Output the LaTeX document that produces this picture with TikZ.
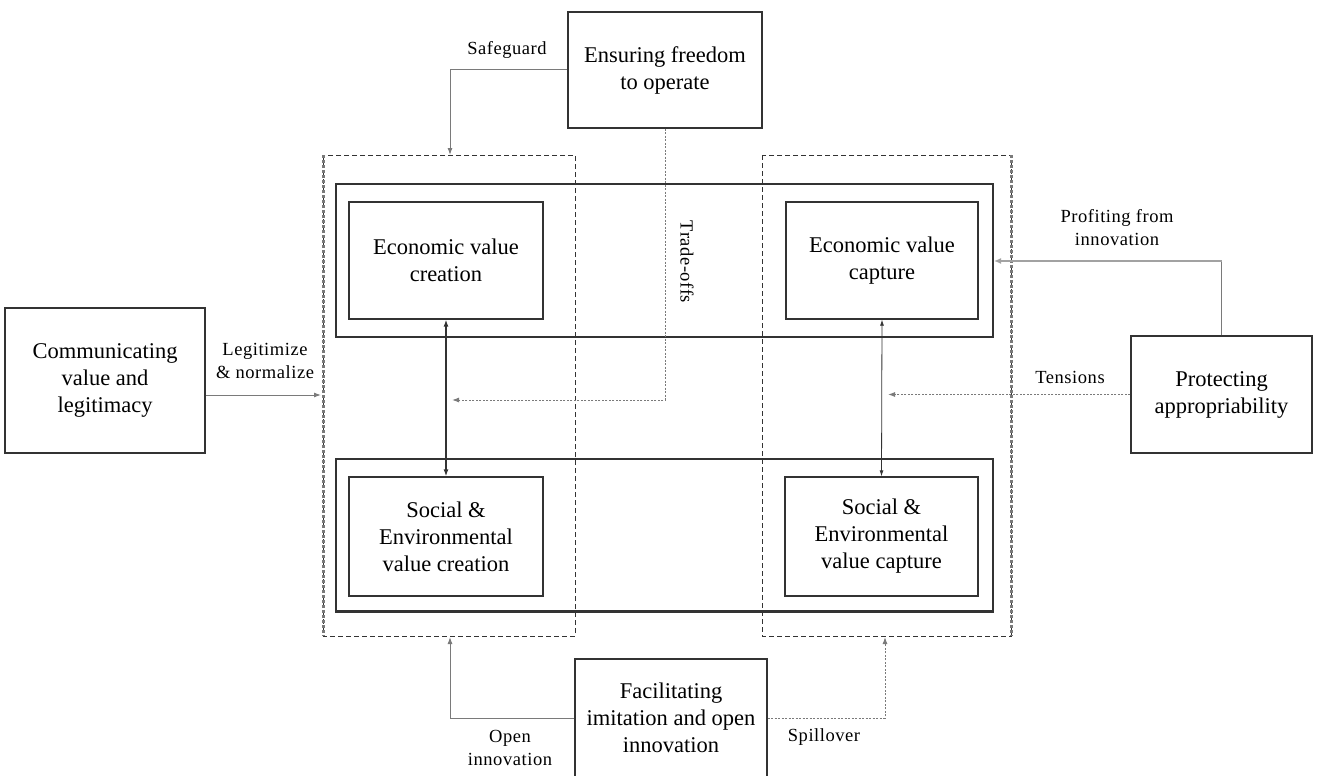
\documentclass[tikz,border=0pt]{standalone}
\usepackage{fontspec}
\setmainfont{Liberation Serif}
\newfontfamily\lblfont[LetterSpace=3]{Liberation Serif}
\usetikzlibrary{arrows.meta}
\definecolor{ink}{HTML}{333333}
\definecolor{soft}{HTML}{7A7A7A}
\tikzset{
  box/.style={draw=ink, line width=1.3pt, align=center, inner sep=0pt,
    font=\fontsize{22.5}{27}\selectfont},
  band/.style={draw=ink, line width=1.3pt},
  zone/.style={draw=ink, line width=0.9pt, dash pattern=on 5pt off 3pt},
  zoneedge/.style={draw=soft, line width=3pt, dash pattern=on 3pt off 2pt},
  lbl/.style={align=center, inner sep=0pt, font=\lblfont\fontsize{18.5}{23}\selectfont, text=black},
  tip/.style={-{Latex[length=7pt,width=5pt]}},
  conn/.style={draw=soft, line width=1pt, tip},
  dconn/.style={draw=soft, line width=1pt, dash pattern=on 2pt off 1.5pt, tip},
}
\begin{document}
\begin{tikzpicture}[x=1pt, y=-1pt]
  \fill[white] (0,0) rectangle (1317,776);
  \useasboundingbox (0,0) rectangle (1317,776);
  \clip (0,0) rectangle (1317,776);

  % dashed zones around creation and capture
  \draw[zone] (323,155) rectangle (575,636);
  \draw[zone] (762,155) rectangle (1011,636);
  \draw[zoneedge] (323,155) -- (323,636);
  \draw[zoneedge] (1011,155) -- (1011,636);
  \coordinate (leftzoneW) at (321,395);

  % economic and social bands
  \draw[band] (336,184) rectangle (993,337);
  \draw[band] (336,459) rectangle (993,612);
  \draw[ink, line width=2.4pt] (336,611) -- (993,611);

  % inner value boxes
  \node[box, minimum width=194pt, minimum height=117pt] (evcreate) at (446,260.5) {Economic value\\creation};
  \node[box, minimum width=192pt, minimum height=117pt] (evcapture) at (882,260.5) {Economic value\\capture};
  \node[box, minimum width=194pt, minimum height=119pt] (secreate) at (446,536.5) {Social \&\\Environmental\\value creation};
  \node[box, minimum width=193pt, minimum height=119pt] (secapture) at (881.5,536.5) {Social \&\\Environmental\\value capture};

  % outer strategy boxes
  \node[box, minimum width=194pt, minimum height=116pt, fill=white] (ensure) at (665,70) {Ensuring freedom\\to operate};
  \node[box, minimum width=200pt, minimum height=145pt] (comm) at (105,380.5) {Communicating\\value and\\legitimacy};
  \node[box, minimum width=181pt, minimum height=117pt] (protect) at (1221.5,394.5) {Protecting\\appropriability};
  \node[box, minimum width=192pt, minimum height=118pt] (facil) at (671,718) {Facilitating\\imitation and open\\innovation};

  % connector end points
  \coordinate (sgEnd) at (450,155);
  \coordinate (toEnd) at (452,400);
  \coordinate (profEnd) at (994,261);
  \coordinate (tenEnd) at (888,394.5);
  \coordinate (oiEnd) at (450,637);
  \coordinate (spEnd) at (885,637);

  % connectors
  \draw[conn] (ensure.west) -| (sgEnd);
  \draw[dconn] (ensure.south) |- (toEnd);
  \draw[draw=ink, line width=1.4pt, {Latex[length=7pt,width=5pt]}-{Latex[length=7pt,width=5pt]}] (evcreate.south) -- (secreate.north);
  \draw[draw=ink, line width=0.8pt, {Latex[length=6pt,width=4pt]}-{Latex[length=6pt,width=4pt]}] (evcapture.south) -- (secapture.north);
  \draw[conn] (comm.east |- leftzoneW) -- (leftzoneW);
  \draw[draw=soft, line width=1pt] (protect.north) -- (protect.north |- profEnd);
  \draw[draw=soft!70, line width=2.4pt, -{Latex[length=7pt,width=6pt]}] (protect.north |- profEnd) -- (profEnd);
  \draw[dconn] (protect.west) -- (tenEnd);
  \draw[conn] (facil.west) -| (oiEnd);
  \draw[dconn] (facil.east) -| (spEnd);

  % connector labels
  \node[lbl] (lSafe) at (507,50) {Safeguard};
  \node[lbl, rotate=-90] (lTrade) at (687,262) {Trade-offs};
  \node[lbl] (lLegit) at (265,361) {Legitimize\\\& normalize};
  \node[lbl] (lProf) at (1117,228) {Profiting from\\innovation};
  \node[lbl] (lTens) at (1070,377) {Tensions};
  \node[lbl] (lOpen) at (510,748) {Open\\innovation};
  \node[lbl] (lSpill) at (824,737) {Spillover};
\end{tikzpicture}
\end{document}
